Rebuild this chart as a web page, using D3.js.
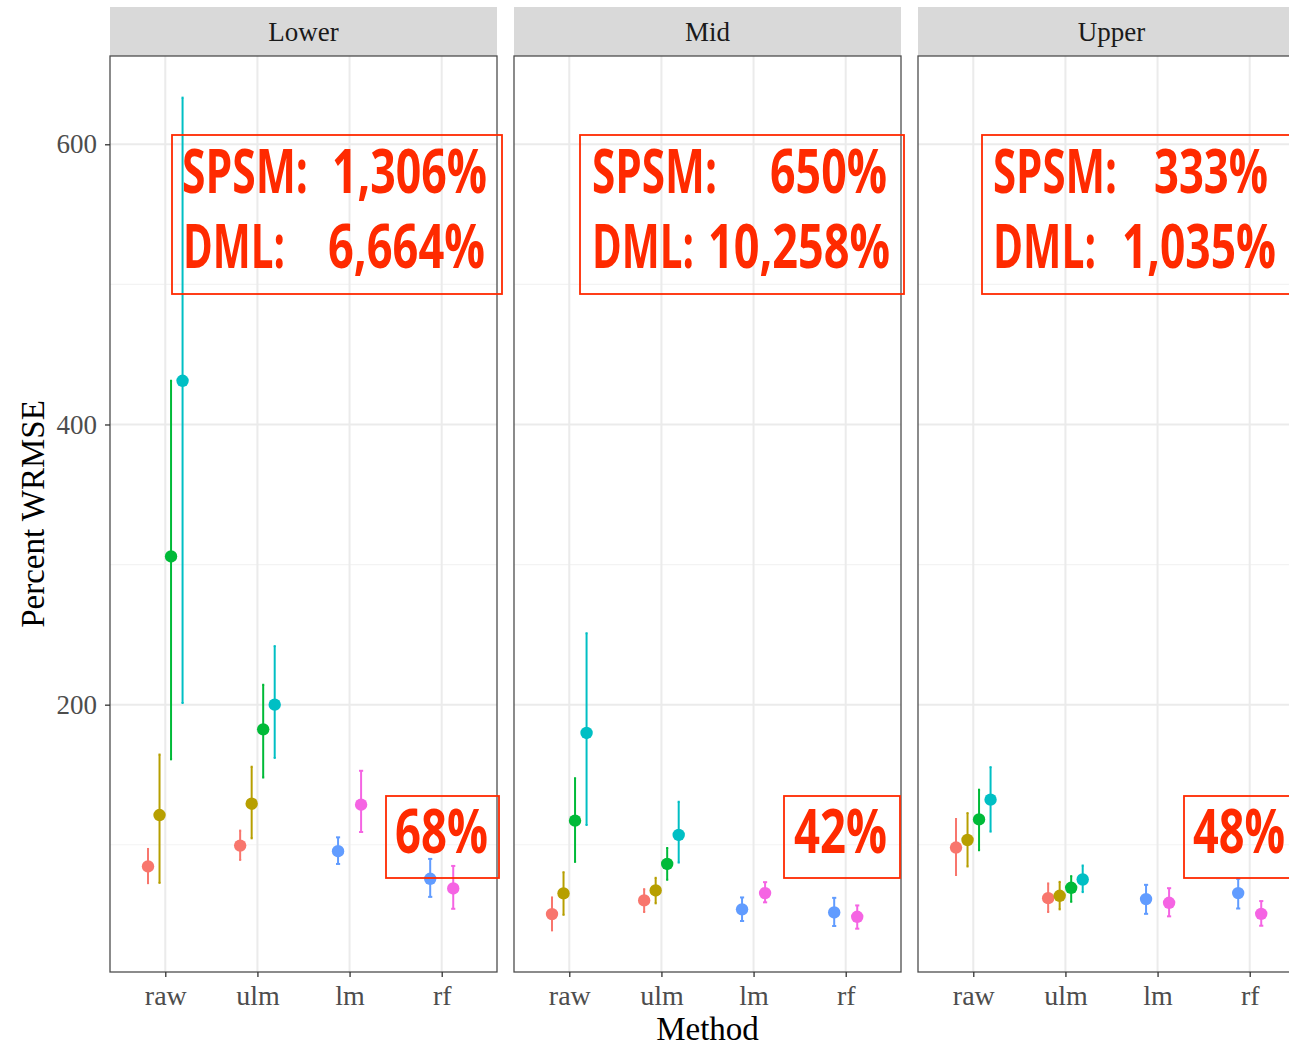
<!DOCTYPE html>
<html>
<head>
<meta charset="utf-8">
<script src="https://cdn.jsdelivr.net/npm/d3@7"></script>
<style>
  html, body { margin: 0; padding: 0; background: #ffffff; }
  svg { display: block; }
</style>
</head>
<body>
<script>
// Facets, methods and estimator series
const panels = ["Lower", "Mid", "Upper"];
const methods = ["raw", "ulm", "lm", "rf"];
const seriesKeys = ["A", "B", "C", "D", "E", "F"];
const seriesColors = ["#F8766D", "#B79F00", "#00BA38", "#00BFC4", "#619CFF", "#F564E3"];

// Which series are reported for each method
const rawSeries = ["A", "B", "C", "D"];
const ulmSeries = ["A", "B", "C", "D"];
const lmSeries = ["E", "F"];
const rfSeries = ["E", "F"];

// Row order: raw A-D, ulm A-D, lm E-F, rf E-F
const lowerEst = [84.5, 121.2, 305.8, 431.2, 99.4, 129.3, 182.4, 200.0, 95.4, 128.6, 75.7, 68.8];
const lowerLo  = [72.6, 72.8, 161.0, 201.2, 89.2, 104.6, 148.0, 162.0, 86.3, 109.1, 62.8, 54.3];
const lowerHi  = [97.0, 164.4, 431.2, 633.3, 110.1, 155.7, 214.2, 241.8, 105.3, 152.8, 89.9, 84.9];

const midEst = [50.5, 65.3, 117.2, 179.8, 60.3, 67.4, 86.3, 107.0, 53.9, 65.5, 51.7, 48.6];
const midLo  = [38.9, 50.0, 87.8, 114.1, 52.0, 58.2, 75.0, 87.3, 45.6, 58.9, 42.0, 40.1];
const midHi  = [62.4, 80.4, 147.5, 251.0, 68.3, 76.4, 97.7, 130.7, 62.4, 73.3, 62.1, 56.7];

const upperEst = [98.0, 103.4, 118.1, 132.2, 61.9, 63.6, 69.3, 75.2, 61.2, 58.6, 65.5, 50.7];
const upperLo  = [78.4, 84.5, 96.1, 109.4, 52.0, 53.9, 59.3, 66.2, 50.7, 48.9, 54.5, 42.2];
const upperHi  = [118.4, 122.6, 139.3, 155.4, 72.4, 73.5, 77.6, 85.2, 71.4, 69.0, 75.7, 59.8];

// y axis ticks
const yMajorTicks = [200, 400, 600];
const yMinorTicks = [100, 300, 500];

// Callout texts per facet
const spsmText = ["1,306%", "650%", "333%"];
const dmlText = ["6,664%", "10,258%", "1,035%"];
const bottomText = ["68%", "42%", "48%"];

// ---------------------------------------------------------------
const width = 1289, height = 1044;
const panelLeft = 110, panelW = 387, panelGap = 17;
const stripTop = 7, panelTop = 56, panelBottom = 972;
const serif = "'Liberation Serif', 'DejaVu Serif', serif";
const calloutColor = "#FF2A00";

// Horizontal extents of each callout text, relative to the facet's left edge
const calloutLayout = [
  { box: [62, 392], spsm: [72, 198], spsmVal: [222, 377], dml: [73, 175], dmlVal: [218, 375],
    small: [276, 389], smallText: [285, 378] },
  { box: [66, 390], spsm: [78, 203], spsmVal: [256, 373], dml: [78, 180], dmlVal: [194, 376],
    small: [270, 386], smallText: [280, 373] },
  { box: [64, 388], spsm: [75, 199], spsmVal: [236, 350], dml: [75, 178], dmlVal: [204, 358],
    small: [266, 382], smallText: [275, 367] }
];

const svg = d3.select("body").append("svg")
  .attr("width", width).attr("height", height)
  .style("overflow", "hidden");

// Assemble long-format rows
const methodSeries = { raw: rawSeries, ulm: ulmSeries, lm: lmSeries, rf: rfSeries };
const panelData = [
  [lowerEst, lowerLo, lowerHi],
  [midEst, midLo, midHi],
  [upperEst, upperLo, upperHi]
];
const rows = [];
panels.forEach((p, pi) => {
  let k = 0;
  methods.forEach(m => {
    const ss = methodSeries[m];
    ss.forEach((s, j) => {
      rows.push({
        panel: p, pi, method: m, series: s, j, n: ss.length,
        est: panelData[pi][0][k], lo: panelData[pi][1][k], hi: panelData[pi][2][k]
      });
      k++;
    });
  });
});

const color = d3.scaleOrdinal(seriesKeys, seriesColors);

// Shared continuous y scale with 5% expansion on each side
const yMin = d3.min(rows, d => d.lo), yMax = d3.max(rows, d => d.hi);
const pad = (yMax - yMin) * 0.05;
const y = d3.scaleLinear().domain([yMin - pad, yMax + pad]).range([panelBottom, panelTop]);

// Discrete x scale within a panel
const x = d3.scalePoint(methods, [0, panelW]).padding(0.6);
const step = x.step();
const dodgeWidth = 0.5;

panels.forEach((p, pi) => {
  const x0 = panelLeft + pi * (panelW + panelGap);
  const g = svg.append("g").attr("transform", `translate(${x0},0)`);

  // strip
  g.append("rect")
    .attr("x", 0).attr("y", stripTop)
    .attr("width", panelW).attr("height", panelTop - stripTop)
    .attr("fill", "#D9D9D9");
  g.append("text")
    .attr("x", panelW / 2).attr("y", (stripTop + panelTop) / 2)
    .attr("dy", "0.35em")
    .attr("text-anchor", "middle")
    .attr("font-family", serif).attr("font-size", 27)
    .attr("fill", "#1A1A1A")
    .text(p);

  // panel background + grid
  g.append("rect")
    .attr("x", 0).attr("y", panelTop)
    .attr("width", panelW).attr("height", panelBottom - panelTop)
    .attr("fill", "#ffffff");

  g.selectAll("line.minor").data(yMinorTicks).join("line")
    .attr("x1", 0).attr("x2", panelW)
    .attr("y1", d => y(d)).attr("y2", d => y(d))
    .attr("stroke", "#F3F3F3").attr("stroke-width", 1.2);
  g.selectAll("line.major").data(yMajorTicks).join("line")
    .attr("x1", 0).attr("x2", panelW)
    .attr("y1", d => y(d)).attr("y2", d => y(d))
    .attr("stroke", "#EBEBEB").attr("stroke-width", 2);
  g.selectAll("line.vmajor").data(methods).join("line")
    .attr("x1", d => x(d)).attr("x2", d => x(d))
    .attr("y1", panelTop).attr("y2", panelBottom)
    .attr("stroke", "#EBEBEB").attr("stroke-width", 2);

  // error bars and points
  const pr = rows.filter(r => r.pi === pi);
  const px = d => x(d.method) + (d.j - (d.n - 1) / 2) * (dodgeWidth / d.n) * step;
  const capHalf = d => 0.09 * (dodgeWidth / d.n) * step;

  const eb = g.append("g").selectAll("g").data(pr).join("g")
    .attr("stroke", d => color(d.series)).attr("stroke-width", 2);
  eb.append("line")
    .attr("x1", px).attr("x2", px)
    .attr("y1", d => y(d.lo)).attr("y2", d => y(d.hi));
  eb.append("line")
    .attr("x1", d => px(d) - capHalf(d)).attr("x2", d => px(d) + capHalf(d))
    .attr("y1", d => y(d.lo)).attr("y2", d => y(d.lo));
  eb.append("line")
    .attr("x1", d => px(d) - capHalf(d)).attr("x2", d => px(d) + capHalf(d))
    .attr("y1", d => y(d.hi)).attr("y2", d => y(d.hi));

  g.append("g").selectAll("circle").data(pr).join("circle")
    .attr("cx", px).attr("cy", d => y(d.est))
    .attr("r", 6.2)
    .attr("fill", d => color(d.series));

  // panel border
  g.append("rect")
    .attr("x", 0).attr("y", panelTop)
    .attr("width", panelW).attr("height", panelBottom - panelTop)
    .attr("fill", "none").attr("stroke", "#4D4D4D").attr("stroke-width", 1.3);

  // x axis
  const xAxis = g.append("g").attr("transform", `translate(0,${panelBottom})`)
    .call(d3.axisBottom(x).tickSize(5).tickPadding(8));
  xAxis.select(".domain").remove();
  xAxis.selectAll(".tick line").attr("stroke", "#333333").attr("stroke-width", 1.3);
  xAxis.selectAll(".tick text")
    .attr("font-family", serif).attr("font-size", 28).attr("fill", "#4D4D4D");

  // y axis on first panel only
  if (pi === 0) {
    const yAxis = g.append("g")
      .call(d3.axisLeft(y).tickValues(yMajorTicks).tickSize(5).tickPadding(8));
    yAxis.select(".domain").remove();
    yAxis.selectAll(".tick line").attr("stroke", "#333333").attr("stroke-width", 1.3);
    yAxis.selectAll(".tick text")
      .attr("font-family", serif).attr("font-size", 27).attr("fill", "#4D4D4D");
  }
});

// axis titles
svg.append("text")
  .attr("x", (panelLeft + panelLeft + 3 * panelW + 2 * panelGap) / 2)
  .attr("y", 1040)
  .attr("text-anchor", "middle")
  .attr("font-family", serif).attr("font-size", 33).attr("fill", "#000")
  .text("Method");
svg.append("text")
  .attr("transform", `translate(44,${(panelTop + panelBottom) / 2}) rotate(-90)`)
  .attr("text-anchor", "middle")
  .attr("font-family", serif).attr("font-size", 33).attr("fill", "#000")
  .text("Percent WRMSE");

// ---------------------------------------------------------------
// Red callouts
const calloutFont = "'Open Sans', 'Noto Sans', 'DejaVu Sans', sans-serif";
const calloutSize = 60;
const calloutLayer = svg.append("g");

function calloutText(s, span, x0, yPos) {
  calloutLayer.append("text")
    .attr("x", x0 + span[0]).attr("y", yPos)
    .attr("textLength", span[1] - span[0]).attr("lengthAdjust", "spacingAndGlyphs")
    .attr("font-family", calloutFont).attr("font-size", calloutSize)
    .attr("font-weight", "bold")
    .attr("fill", calloutColor)
    .text(s);
}

panels.forEach((p, pi) => {
  const x0 = panelLeft + pi * (panelW + panelGap);
  const L = calloutLayout[pi];
  calloutLayer.append("rect")
    .attr("x", x0 + L.box[0]).attr("y", 135)
    .attr("width", L.box[1] - L.box[0]).attr("height", 159)
    .attr("fill", "none").attr("stroke", calloutColor).attr("stroke-width", 1.8);
  calloutText("SPSM:", L.spsm, x0, 193);
  calloutText(spsmText[pi], L.spsmVal, x0, 193);
  calloutText("DML:", L.dml, x0, 268);
  calloutText(dmlText[pi], L.dmlVal, x0, 268);

  calloutLayer.append("rect")
    .attr("x", x0 + L.small[0]).attr("y", 796)
    .attr("width", L.small[1] - L.small[0]).attr("height", 82)
    .attr("fill", "none").attr("stroke", calloutColor).attr("stroke-width", 1.8);
  calloutText(bottomText[pi], L.smallText, x0, 853);
});
</script>
</body>
</html>
